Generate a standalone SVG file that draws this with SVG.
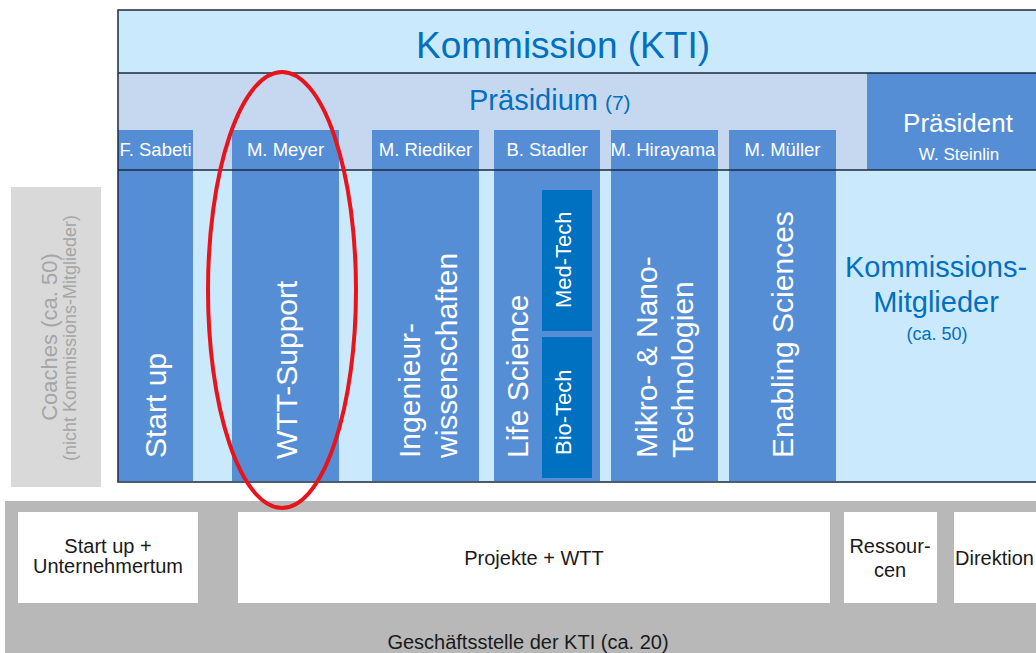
<svg xmlns="http://www.w3.org/2000/svg" width="1036" height="653" viewBox="0 0 1036 653">
<style>
text{font-family:"Liberation Sans",Arial,sans-serif}
.col{fill:#568ed5}
.sub{fill:#0070c0}
.hd{fill:#ffffff;font-size:18.5px;text-anchor:middle}
.vt{fill:#ffffff;font-size:30px}
.vs{fill:#ffffff;font-size:22px}
.blue{fill:#0070c0;text-anchor:middle}
.wb{fill:#ffffff}
.bt{fill:#1a1a1a;font-size:20px;text-anchor:middle}
.bts{fill:#1a1a1a;font-size:20px;text-anchor:start}
.ln{stroke:#1a2a40;stroke-width:1.5;fill:none}
</style>
<rect width="1036" height="653" fill="#ffffff"/>
<g id="kommission">
<rect x="118" y="10" width="920" height="472" fill="#cbe9fc"/>
<text class="blue" x="563" y="58" font-size="37">Kommission (KTI)</text>
</g>
<g id="praesidium">
<rect x="118" y="73" width="920" height="97" fill="#c6d8f0"/>
<text x="469" y="110" font-size="29" fill="#0070c0">Präsidium<tspan font-size="21" dx="7">(7)</tspan></text>
</g>
<g id="praesident">
<rect x="867" y="73" width="171" height="97" fill="#568ed5"/>
<text x="958" y="132" font-size="26" fill="#ffffff" text-anchor="middle">Präsident</text>
<text x="959" y="160" font-size="17" fill="#ffffff" text-anchor="middle">W. Steinlin</text>
</g>
<g id="col-startup">
<rect class="col" x="118" y="130" width="75" height="351"/>
<text class="hd" x="155.5" y="156">F. Sabeti</text>
<text class="vt" transform="translate(166,458) rotate(-90)">Start up</text>
</g>
<g id="col-wtt">
<rect class="col" x="232" y="130" width="107" height="351"/>
<text class="hd" x="285.5" y="156">M. Meyer</text>
<text class="vt" transform="translate(297,459) rotate(-90)">WTT-Support</text>
</g>
<g id="col-ing">
<rect class="col" x="372" y="130" width="107" height="351"/>
<text class="hd" x="425.5" y="156">M. Riediker</text>
<text class="vt" transform="translate(420,458) rotate(-90)">Ingenieur-</text>
<text class="vt" transform="translate(457,458) rotate(-90)">wissenschaften</text>
</g>
<g id="col-life">
<rect class="col" x="494" y="130" width="106" height="351"/>
<text class="hd" x="547" y="156">B. Stadler</text>
<text class="vt" transform="translate(528,458) rotate(-90)">Life Science</text>
</g>
<g id="medtech">
<rect class="sub" x="542" y="190" width="50" height="141"/>
<text class="vs" transform="translate(571,308) rotate(-90)">Med-Tech</text>
</g>
<g id="biotech">
<rect class="sub" x="542" y="337" width="50" height="141"/>
<text class="vs" transform="translate(571,455) rotate(-90)">Bio-Tech</text>
</g>
<g id="col-mikro">
<rect class="col" x="611" y="130" width="107" height="351"/>
<text class="hd" x="663" y="156">M. Hirayama</text>
<text class="vt" transform="translate(657,458) rotate(-90)">Mikro- &amp; Nano-</text>
<text class="vt" transform="translate(693,458) rotate(-90)">Technologien</text>
</g>
<g id="col-enabling">
<rect class="col" x="729" y="130" width="107" height="351"/>
<text class="hd" x="782.5" y="156">M. Müller</text>
<text class="vt" transform="translate(793,458) rotate(-90)">Enabling Sciences</text>
</g>
<g id="mitglieder">
<text class="blue" x="936" y="277" font-size="29">Kommissions-</text>
<text class="blue" x="936" y="312" font-size="29">Mitglieder</text>
<text class="blue" x="937" y="340" font-size="18">(ca. 50)</text>
</g>
<g id="lines">
<line class="ln" x1="118" y1="73" x2="1036" y2="73"/>
<line class="ln" x1="118" y1="170" x2="1036" y2="170"/>
<rect class="ln" x="118" y="10" width="930" height="472" stroke="#22395a"/>
</g>
<g id="coaches">
<rect x="11" y="187" width="90" height="300" fill="#d9d9d9"/>
<text transform="translate(57,337) rotate(-90)" font-size="22" fill="#a6a6a6" text-anchor="middle">Coaches (ca. 50)</text>
<text transform="translate(76,338) rotate(-90)" font-size="18" fill="#a6a6a6" text-anchor="middle">(nicht Kommissions-Mitglieder)</text>
</g>
<g id="geschaeftsstelle">
<rect x="5" y="501" width="1031" height="152" fill="#b8b8b8"/>
<text class="bt" x="528" y="649">Geschäftsstelle der KTI (ca. 20)</text>
</g>
<g id="startup-unternehmertum">
<rect class="wb" x="18" y="512" width="180" height="91"/>
<text class="bt" x="108" y="553">Start up +</text>
<text class="bt" x="108" y="573">Unternehmertum</text>
</g>
<g id="projekte-wtt">
<rect class="wb" x="238" y="512" width="592" height="91"/>
<text class="bt" x="534" y="565">Projekte + WTT</text>
</g>
<g id="ressourcen">
<rect class="wb" x="844" y="512" width="93" height="91"/>
<text class="bt" x="890" y="553">Ressour-</text>
<text class="bt" x="890" y="577">cen</text>
</g>
<g id="direktion">
<rect class="wb" x="954" y="512" width="90" height="91"/>
<text class="bts" x="955" y="565">Direktion</text>
</g>
<g id="highlight">
<ellipse cx="282" cy="290" rx="74" ry="218" fill="none" stroke="#e8141b" stroke-width="4"/>
</g>
</svg>
